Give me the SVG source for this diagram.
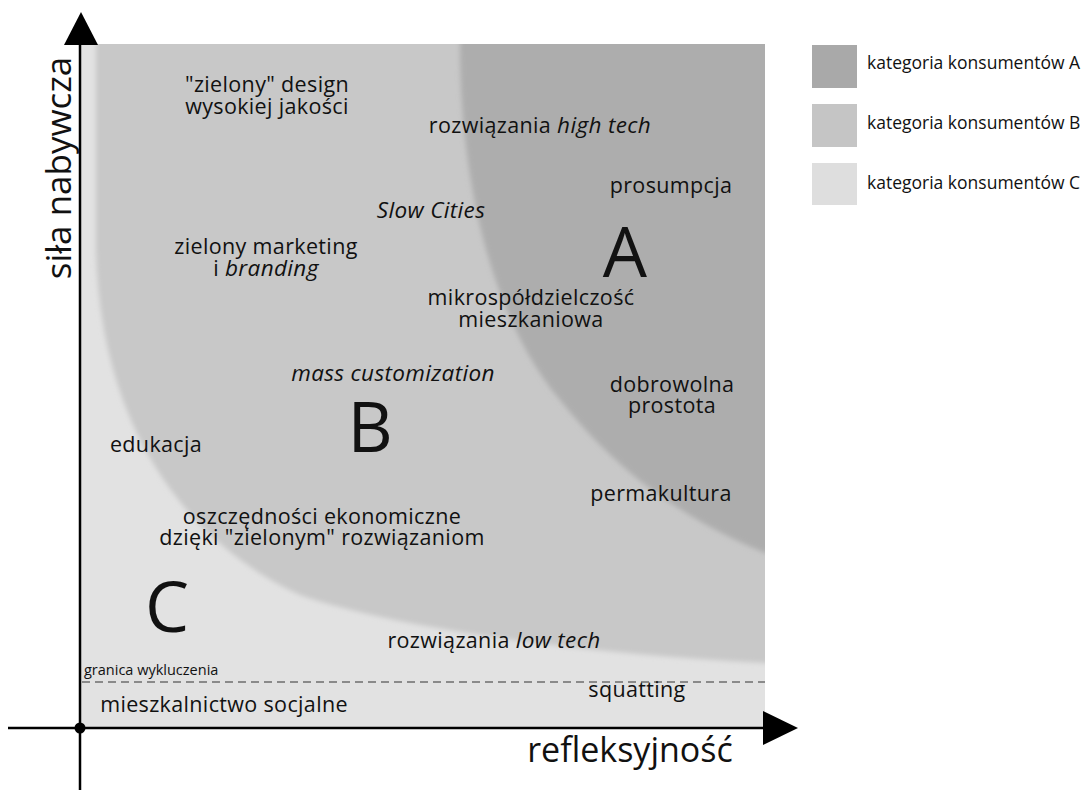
<svg xmlns="http://www.w3.org/2000/svg" width="1085" height="793" viewBox="0 0 1085 793">
  <style>
    text { font-family: "Open Sans", "Noto Sans", "DejaVu Sans", sans-serif; fill: #111; }
    .lbl { font-size: 21.5px; letter-spacing: 0.35px; }
    .mid { text-anchor: middle; }
    .it { font-style: italic; font-size: 22.5px; }
    .big { font-size: 70px; letter-spacing: 0; }
    .leg { font-size: 17.5px; }
    .axis { stroke: #000; stroke-width: 2.5; fill: none; }
  </style>
  <defs>
    <filter id="soft" x="-5%" y="-5%" width="110%" height="110%">
      <feGaussianBlur stdDeviation="2.5"/>
    </filter>
    <clipPath id="plotClip"><rect x="80" y="44" width="685" height="684"/></clipPath>
  </defs>

  <!-- consumer category regions -->
  <g id="regions">
    <rect id="region-c" x="80" y="44" width="685" height="684" fill="#e2e2e2"/>
    <g clip-path="url(#plotClip)">
      <path id="region-b" filter="url(#soft)" fill="#c8c8c8"
            d="M96,30 L96,250 C100,420 180,540 300,595 C400,630 600,655 765,663 L780,663 L780,30 Z"/>
      <path id="region-a" filter="url(#soft)" fill="#adadad"
            d="M460,30 L460,44 C460,200 500,330 560,400 C600,450 660,510 765,553 L780,553 L780,30 Z"/>
    </g>
  </g>

  <!-- exclusion threshold -->
  <g id="exclusion">
    <line x1="82" y1="682" x2="765" y2="682" stroke="#6e6e6e" stroke-width="1.5" stroke-dasharray="8,5"/>
    <text x="84" y="675" style="font-size:14.5px">granica wykluczenia</text>
  </g>

  <!-- axes -->
  <g id="axes">
    <line class="axis" x1="80" y1="40" x2="80" y2="790"/>
    <line class="axis" x1="8" y1="728" x2="765" y2="728"/>
    <polygon points="81,12 64,45 98,45" fill="#000"/>
    <polygon points="798,728 763,711 763,745" fill="#000"/>
    <circle cx="80" cy="728" r="5.5" fill="#000"/>
    <text transform="translate(71,168) rotate(-90)" text-anchor="middle" style="font-size:35px">siła nabywcza</text>
    <text x="630" y="762" text-anchor="middle" style="font-size:34px">refleksyjność</text>
  </g>

  <!-- category letters -->
  <g id="letters">
    <text class="big mid" x="625" y="277">A</text>
    <text class="big mid" x="370" y="452">B</text>
    <text class="big mid" x="167" y="632">C</text>
  </g>

  <!-- labels -->
  <g id="n-design"><text class="lbl mid" x="267" y="92">"zielony" design</text><text class="lbl mid" x="267" y="114">wysokiej jakości</text></g>
  <g id="n-hightech"><text class="lbl mid" x="540" y="133">rozwiązania <tspan class="it">high tech</tspan></text></g>
  <g id="n-prosumpcja"><text class="lbl mid" x="671" y="193">prosumpcja</text></g>
  <g id="n-slow"><text class="lbl mid it" x="431" y="218">Slow Cities</text></g>
  <g id="n-marketing"><text class="lbl mid" x="266" y="254">zielony marketing</text><text class="lbl mid" x="266" y="276">i <tspan class="it">branding</tspan></text></g>
  <g id="n-mikro"><text class="lbl mid" x="531" y="305">mikrospółdzielczość</text><text class="lbl mid" x="531" y="327">mieszkaniowa</text></g>
  <g id="n-mass"><text class="lbl mid it" x="393" y="381">mass customization</text></g>
  <g id="n-dobro"><text class="lbl mid" x="672" y="392">dobrowolna</text><text class="lbl mid" x="672" y="413">prostota</text></g>
  <g id="n-edukacja"><text class="lbl mid" x="156" y="452">edukacja</text></g>
  <g id="n-perma"><text class="lbl mid" x="661" y="501">permakultura</text></g>
  <g id="n-oszczednosci"><text class="lbl mid" x="322" y="524">oszczędności ekonomiczne</text><text class="lbl mid" x="322" y="545">dzięki "zielonym" rozwiązaniom</text></g>
  <g id="n-lowtech"><text class="lbl mid" x="494" y="648">rozwiązania <tspan class="it">low tech</tspan></text></g>
  <g id="n-socjalne"><text class="lbl mid" x="224" y="712">mieszkalnictwo socjalne</text></g>
  <g id="n-squatting"><text class="lbl mid" x="637" y="697">squatting</text></g>

  <!-- legend -->
  <g id="legend">
    <rect x="812" y="45" width="45" height="43" fill="#a9a9a9"/>
    <rect x="812" y="104" width="45" height="43" fill="#c5c5c5"/>
    <rect x="812" y="163" width="45" height="42" fill="#dedede"/>
    <text class="leg" x="867" y="69">kategoria konsumentów A</text>
    <text class="leg" x="867" y="129">kategoria konsumentów B</text>
    <text class="leg" x="867" y="189">kategoria konsumentów C</text>
  </g>
</svg>
